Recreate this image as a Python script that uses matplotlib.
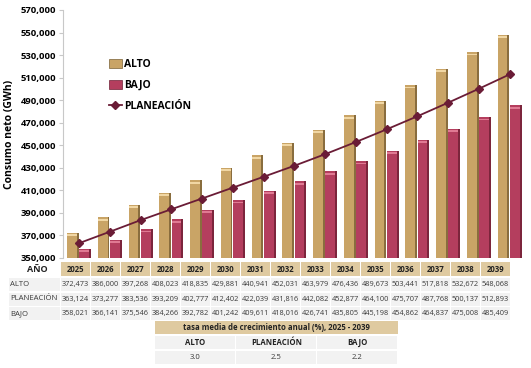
import matplotlib
matplotlib.use("Agg")
import matplotlib.pyplot as plt
from matplotlib.patches import Rectangle
import numpy as np

plt.rcParams['font.family'] = ['Open Sans', 'DejaVu Sans']

years = [2025, 2026, 2027, 2028, 2029, 2030, 2031, 2032, 2033, 2034, 2035, 2036, 2037, 2038, 2039]
alto = [372473, 386000, 397268, 408023, 418835, 429881, 440941, 452031, 463979, 476436, 489673, 503441, 517818, 532672, 548068]
planeacion = [363124, 373277, 383536, 393209, 402777, 412402, 422039, 431816, 442082, 452877, 464100, 475707, 487768, 500137, 512893]
bajo = [358021, 366141, 375546, 384266, 392782, 401242, 409611, 418016, 426741, 435805, 445198, 454862, 464837, 475008, 485409]
series_names = ["ALTO", "BAJO", "PLANEACIÓN"]
row_names = ["ALTO", "PLANEACIÓN", "BAJO"]
tasa_title = "tasa media de crecimiento anual (%), 2025 - 2039"
tasa_names = ["ALTO", "PLANEACIÓN", "BAJO"]
tasa_values = ["3.0", "2.5", "2.2"]
yticks = list(range(350000, 570001, 20000))

W, H = 531, 368
fig = plt.figure(figsize=(W / 100, H / 100), dpi=100)
ax = fig.add_axes([63 / W, 1 - 258 / H, 462 / W, 248 / H])

tan = "#c9a466"
tan_dark = "#7a6035"
tan_light = "#f1d7a4"
crim = "#b43e5e"
crim_dark = "#6e1f34"
crim_light = "#e07a93"
line_c = "#6a1c36"

x = np.arange(len(years))
bw = 0.38
off = 0.2
base = 350000
span = 220000
for vals, xo, c, cd, cl in [(alto, -off, tan, tan_dark, tan_light), (bajo, off, crim, crim_dark, crim_light)]:
    v = np.array(vals)
    ax.bar(x + xo, v - base, bottom=base, width=bw, color=c, edgecolor="none", zorder=2)
    # shadow on right side
    ax.bar(x + xo + bw * 0.42, v - base, bottom=base, width=bw * 0.16, color=cd, edgecolor="none", zorder=2.1, alpha=0.8)
    # light cap at top
    ax.bar(x + xo - bw * 0.08, span * 0.007, bottom=v - span * 0.013, width=bw * 0.84, color=cl, edgecolor="none", zorder=2.2)

ax.plot(x, planeacion, color=line_c, lw=1.3, marker="D", ms=4, mfc=line_c, mec=line_c, zorder=3)

ax.set_xlim(-0.52, 14.5)
ax.set_ylim(350000, 570000)
ax.set_yticks(yticks)
ax.set_yticklabels([f"{t:,}" for t in yticks], fontsize=6.8, fontweight="bold")
ax.set_xticks([])
for s in ["top", "right", "bottom"]:
    ax.spines[s].set_visible(False)
ax.spines["left"].set_color("#c8c8c8")
ax.tick_params(axis="y", length=3, color="#c8c8c8", pad=2)
ax.set_ylabel("Consumo neto (GWh)", fontsize=7.5, fontweight="bold", labelpad=4)

# legend
handles = [
    Rectangle((0, 0), 1, 1, facecolor=tan, edgecolor=tan_dark, lw=0.5),
    Rectangle((0, 0), 1, 1, facecolor=crim, edgecolor=crim_dark, lw=0.5),
    plt.Line2D([0], [0], color=line_c, lw=1.3, marker="D", ms=4),
]
leg = fig.legend(handles, series_names, loc="upper left", bbox_to_anchor=(105 / W, 1 - 55 / H),
                 frameon=False, prop={"weight": "bold", "size": 7.5}, handlelength=1.2,
                 handleheight=0.9, labelspacing=0.95, handletextpad=0.2, borderaxespad=0)

# data table
def frect(x0, y0, w, h, color):
    fig.patches.append(Rectangle((x0 / W, 1 - (y0 + h) / H), w / W, h / H,
                                 transform=fig.transFigure, facecolor=color, edgecolor="none"))

def ftext(xp, yp, s, **kw):
    fig.text(xp / W, 1 - yp / H, s, ha=kw.pop("ha", "center"), va="center", **kw)

hdr = "#dfcaa0"
cell = "#f2f2f2"
txt = "#3a3a3a"
col0 = 61
colw = 30
ftext(37, 269, "AÑO", fontsize=6.5, fontweight="bold", color="#222222")
rows = [alto, planeacion, bajo]
row_y = [278, 292.5, 307]
rh = 13
for i, yr in enumerate(years):
    cx = col0 + i * colw
    frect(cx, 262, colw - 1, 14, hdr)
    ftext(cx + (colw - 1) / 2, 269, str(yr), fontsize=5.6, fontweight="bold", color="#222222")
    for r, vals in enumerate(rows):
        frect(cx, row_y[r], colw - 1, rh, cell)
        ftext(cx + (colw - 1) / 2, row_y[r] + rh / 2, f"{vals[i]:,}", fontsize=5.3, color=txt)
for r, name in enumerate(row_names):
    frect(9, row_y[r], col0 - 10, rh, cell)
    ftext(10, row_y[r] + rh / 2, name, fontsize=5.6, color=txt, ha="left")

# growth table
tx0, tx1 = 155, 398
frect(tx0, 321, tx1 - tx0, 13, hdr)
ftext((tx0 + tx1) / 2, 327.5, tasa_title, fontsize=5.6, fontweight="bold", color="#222222")
tw = (tx1 - tx0) / 3
for j, (n, v) in enumerate(zip(tasa_names, tasa_values)):
    cx = tx0 + j * tw
    frect(cx, 336, tw - 1.5, 13, cell)
    frect(cx, 351, tw - 1.5, 13, cell)
    ftext(cx + tw / 2, 342.5, n, fontsize=5.6, fontweight="bold", color="#222222")
    ftext(cx + tw / 2, 357.5, v, fontsize=5.6, color=txt)

fig.savefig("out.png", dpi=100)
